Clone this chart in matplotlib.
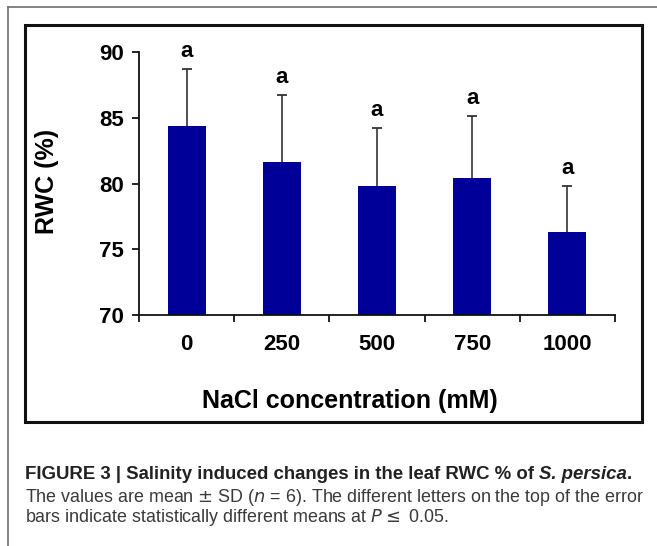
import matplotlib
matplotlib.use("Agg")
import matplotlib.pyplot as plt
from matplotlib.lines import Line2D
from matplotlib.patches import Rectangle

# ---- data ----
categories = ["0", "250", "500", "750", "1000"]
rwc_mean = [84.4, 81.6, 79.8, 80.4, 76.3]
rwc_sd = [4.3, 5.1, 4.4, 4.7, 3.5]
letters = ["a", "a", "a", "a", "a"]
yticks = [70, 75, 80, 85, 90]

W, H = 657, 546
plt.rcParams["font.family"] = ["Liberation Sans", "DejaVu Sans"]
fig = plt.figure(figsize=(W / 100, H / 100), dpi=100)


def fx(x):
    return x / W


def fy(y):
    return 1 - y / H


# outer frame (top and left lines)
fig.add_artist(Line2D([fx(8), fx(8)], [fy(7), 0], transform=fig.transFigure,
                      color="#6e6e6e", lw=1.2))
fig.add_artist(Line2D([fx(8), 1], [fy(7), fy(7)], transform=fig.transFigure,
                      color="#6e6e6e", lw=1.2))
# inner box
fig.add_artist(Rectangle((fx(25), fy(422)), fx(642) - fx(25), fy(25) - fy(422),
                         transform=fig.transFigure, fill=False, ec="#111111", lw=2.2))

# axes
ax_l, ax_r, ax_t, ax_b = 139, 615, 52, 315
ax = fig.add_axes([fx(ax_l), fy(ax_b), fx(ax_r) - fx(ax_l), fy(ax_t) - fy(ax_b)])
n = len(categories)
xs = [i + 0.5 for i in range(n)]
tops = [m + s for m, s in zip(rwc_mean, rwc_sd)]
ax.bar(xs, [m - yticks[0] for m in rwc_mean], bottom=yticks[0], width=0.4,
       color="#000099", zorder=2)
ax.errorbar(xs, rwc_mean, yerr=[[0] * n, rwc_sd], fmt="none", ecolor="#333333",
            elinewidth=1.2, capsize=0, zorder=3)
ax.plot(xs, tops, ls="none", marker="_", markersize=7, markeredgewidth=1.3,
        color="#333333", zorder=3)
for x, t, lt in zip(xs, tops, letters):
    ax.annotate(lt, (x, t), xytext=(0, 9), textcoords="offset points",
                ha="center", va="baseline", fontsize=16, fontweight="bold",
                annotation_clip=False)

ax.set_xlim(0, n)
ax.set_ylim(yticks[0], yticks[-1])
ax.set_yticks(yticks)
ax.set_yticklabels([str(t) for t in yticks])
ax.set_xticks(range(n + 1))
ax.set_xticklabels([])
ax.set_xticks(xs, minor=True)
ax.set_xticklabels(categories, minor=True)
ax.tick_params(axis="x", which="major", direction="out", length=5, width=1.2)
ax.tick_params(axis="x", which="minor", length=0, pad=14, labelsize=16)
ax.tick_params(axis="y", direction="out", length=5, width=1.2, pad=6, labelsize=16)
for lab in ax.get_xticklabels(minor=True) + ax.get_yticklabels():
    lab.set_fontweight("bold")
for sp in ["top", "right"]:
    ax.spines[sp].set_visible(False)
for sp in ["left", "bottom"]:
    ax.spines[sp].set_linewidth(1.3)
    ax.spines[sp].set_color("#111111")
ax.patch.set_visible(False)

fig.text(fx(47), fy(181), "RWC (%)", rotation=90, ha="center", va="center",
         fontsize=18, fontweight="bold")
fig.text(fx(350), fy(408), "NaCl concentration (mM)", ha="center", va="baseline",
         fontsize=18, fontweight="bold")

# caption
fig.canvas.draw()
renderer = fig.canvas.get_renderer()


def text_width(s, fs, **kw):
    p = fig.text(0, 0, s, fontsize=fs, **kw)
    w = p.get_window_extent(renderer).width
    p.remove()
    return w


cap_col1 = "#222222"
cap_col2 = "#3a3a3a"
part_a = "FIGURE 3 | Salinity induced changes in the leaf RWC % of "
part_b = "S. persica"
full1 = part_a + part_b + "."
fs1 = 12 * 608 / text_width(full1, 12, fontweight="bold")
wa = text_width(part_a, fs1, fontweight="bold")
wb = text_width(part_b, fs1, fontweight="bold", fontstyle="italic")
fig.text(fx(25), fy(479), part_a, ha="left", va="baseline", fontsize=fs1,
         fontweight="bold", color=cap_col1)
fig.text(fx(25 + wa), fy(479), part_b, ha="left", va="baseline", fontsize=fs1,
         fontweight="bold", fontstyle="italic", color=cap_col1)
fig.text(fx(25 + wa + wb), fy(479), ".", ha="left", va="baseline", fontsize=fs1,
         fontweight="bold", color=cap_col1)

line2 = r"The values are mean $\pm$ SD ($n$ = 6). The different letters on the top of the error"
fs2 = 12 * 616 / text_width(line2, 12)
fig.text(fx(25), fy(502), line2, ha="left", va="baseline", fontsize=fs2, color=cap_col2)
fig.text(fx(25), fy(522), r"bars indicate statistically different means at $P \leq$ 0.05.",
         ha="left", va="baseline", fontsize=fs2, color=cap_col2)

fig.savefig("out.png", dpi=100)
